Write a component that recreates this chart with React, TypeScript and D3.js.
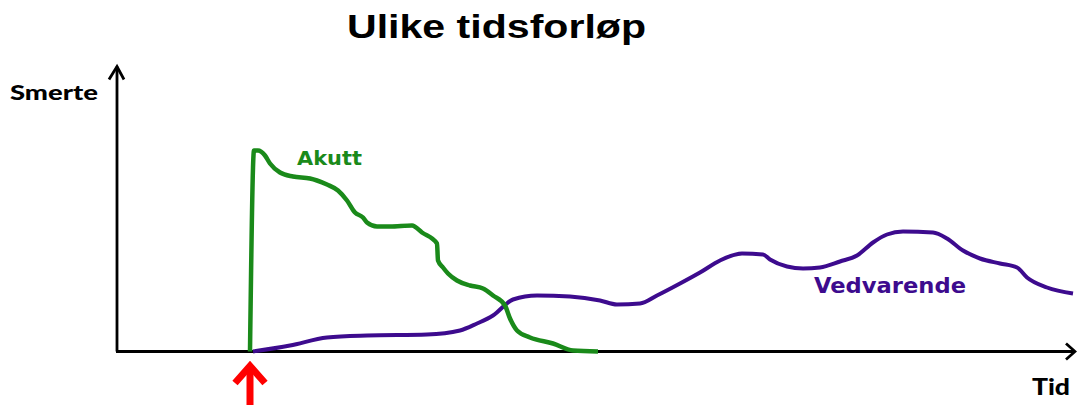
import React from "react";
import * as d3 from "d3";

// tid (fra origo) og smerte-nivå lest av bildet
const akuttTid = [134, 138, 142, 149, 154, 164, 177, 194, 201, 211, 222, 231, 239, 247, 251, 261, 274, 296, 306, 321, 322, 327, 332, 341, 354, 367, 377, 389, 394, 401, 414, 437, 457, 482];
const akuttSmerte = [0, 201, 201, 196, 188, 179, 175, 173, 171, 167, 161, 151, 139, 134, 129, 125, 125, 126, 119, 108, 91, 84, 78, 71, 66, 63, 56, 46, 33, 21, 14, 8, 1, 0];

const vedvarendeTid = [137, 174, 211, 251, 311, 344, 361, 377, 397, 421, 454, 484, 501, 524, 541, 564, 584, 604, 626, 647, 654, 671, 687, 704, 724, 741, 757, 771, 787, 817, 831, 847, 864, 884, 901, 911, 931, 957];
const vedvarendeSmerte = [0, 6, 14, 16, 17, 21, 28, 36, 52, 56, 55, 51, 47, 48, 56, 68, 79, 91, 98, 97, 92, 85, 83, 84, 90, 96, 109, 117, 120, 119, 113, 101, 93, 88, 84, 74, 64, 58];

const tidDomain = [0, 959];
const smerteDomain = [0, 285];
const startTid = 134;

const W = 1077;
const H = 405;

export default function App() {
  const x = d3.scaleLinear().domain(tidDomain).range([116, 1075]);
  const y = d3.scaleLinear().domain(smerteDomain).range([351.5, 66.5]);

  const line = d3
    .line<[number, number]>()
    .x((d) => x(d[0]))
    .y((d) => y(d[1]))
    .curve(d3.curveMonotoneX);

  const akutt = akuttTid.map((t, i) => [t, akuttSmerte[i]] as [number, number]);
  const vedvarende = vedvarendeTid.map((t, i) => [t, vedvarendeSmerte[i]] as [number, number]);

  const x0 = x(0), x1 = x(tidDomain[1]);
  const y0 = y(0), y1 = y(smerteDomain[1]);
  const ax = x(startTid);

  return (
    <svg width={W} height={H} style={{ position: "absolute", left: 0, top: 0, display: "block", background: "#fff" }}>
      <text x={347} y={38} fontFamily="Liberation Sans, Arial, sans-serif" fontWeight="bold" fontSize={34}
        textLength={299} lengthAdjust="spacingAndGlyphs">Ulike tidsforløp</text>

      {/* akser */}
      <g stroke="#000" strokeWidth={2.8} fill="none" strokeLinejoin="miter">
        <line x1={x0} y1={y0} x2={x1} y2={y0} />
        <path d={`M${x1 - 9},${y0 - 8}L${x1},${y0}L${x1 - 9},${y0 + 8}`} />
        <line x1={x0 + 1} y1={y0} x2={x0 + 1} y2={y1} />
        <path d={`M${x0 - 7},${y1 + 13}L${x0 + 1},${y1}L${x0 + 8},${y1 + 13}`} />
      </g>
      <text x={10} y={100} fontFamily="Lato, Carlito, sans-serif" fontWeight="900" fontSize={21}
        textLength={88} lengthAdjust="spacingAndGlyphs">Smerte</text>
      <text x={1032} y={395} fontFamily="Lato, Carlito, sans-serif" fontWeight="900" fontSize={22}
        textLength={38} lengthAdjust="spacingAndGlyphs">Tid</text>

      <path d={line(vedvarende) ?? ""} fill="none" stroke="#3d0b8e" strokeWidth={4} strokeLinejoin="round" />
      <path d={line(akutt) ?? ""} fill="none" stroke="#1a8a1a" strokeWidth={4.5} strokeLinejoin="round" />

      <text x={297} y={165} fill="#1a8a1a" fontFamily="DejaVu Sans, Verdana, sans-serif" fontWeight="bold"
        fontSize={19} textLength={65} lengthAdjust="spacingAndGlyphs">Akutt</text>
      <text x={814} y={293} fill="#3d0b8e" fontFamily="DejaVu Sans, Verdana, sans-serif" fontWeight="bold"
        fontSize={21} textLength={152} lengthAdjust="spacingAndGlyphs">Vedvarende</text>

      {/* rød pil ved start */}
      <g stroke="#ff0000" strokeWidth={7} fill="none" strokeLinejoin="miter">
        <line x1={ax} y1={H} x2={ax} y2={366} />
        <path d={`M${ax - 15},${383}L${ax},${366}L${ax + 15},${383}`} />
      </g>
    </svg>
  );
}
